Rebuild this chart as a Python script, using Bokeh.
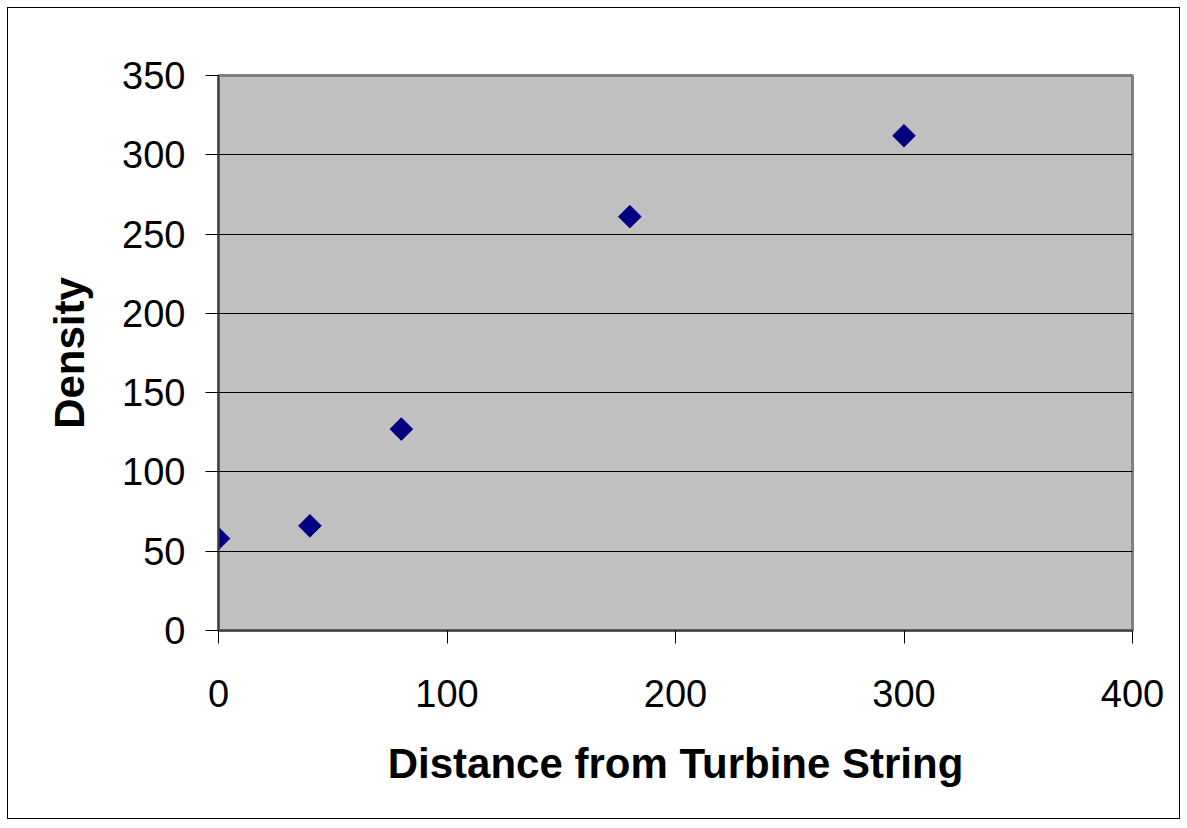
import numpy as np
from bokeh.plotting import figure
from bokeh.models import Range1d, SingleIntervalTicker
from bokeh.embed import file_html
from bokeh.resources import INLINE

distance = [0, 40, 80, 180, 300]
density = [58, 66, 127, 261, 312]
x_title = "Distance from Turbine String"
y_title = "Density"

p = figure(width=1173, height=812, output_backend="svg", toolbar_location=None,
           x_range=Range1d(0, 400), y_range=Range1d(0, 350),
           min_border_left=210, min_border_right=49, min_border_top=67, min_border_bottom=190)
p.styles = {"border": "1px solid black", "margin-left": "7px", "margin-top": "7px"}
p.background_fill_color = "#C0C0C0"
p.border_fill_color = "white"
p.outline_line_color = "#808080"
p.outline_line_width = 3

p.scatter(distance, density, marker="square", angle=np.pi / 4, size=16,
          fill_color="#000080", line_color="#000080")

p.xaxis.ticker = SingleIntervalTicker(interval=100)
p.yaxis.ticker = SingleIntervalTicker(interval=50)
p.xgrid.visible = False
p.ygrid.grid_line_color = "black"
p.ygrid.grid_line_width = 1

for ax in (p.xaxis, p.yaxis):
    ax.axis_line_color = "#404040"
    ax.axis_line_width = 2
    ax.major_tick_line_color = "black"
    ax.major_tick_out = 13
    ax.major_tick_in = 0
    ax.minor_tick_line_color = None
    ax.major_label_text_font = "Liberation Sans"
    ax.major_label_text_font_size = "38px"
    ax.major_label_text_color = "black"
    ax.axis_label_text_font = "Liberation Sans"
    ax.axis_label_text_font_size = "42px"
    ax.axis_label_text_font_style = "bold"
    ax.axis_label_text_color = "black"

p.xaxis.axis_label = x_title
p.yaxis.axis_label = y_title
p.xaxis.major_label_standoff = 36
p.yaxis.major_label_standoff = 20
p.xaxis.axis_label_standoff = 30
p.yaxis.axis_label_standoff = 26

open("out.html", "w").write(file_html(p, INLINE))
